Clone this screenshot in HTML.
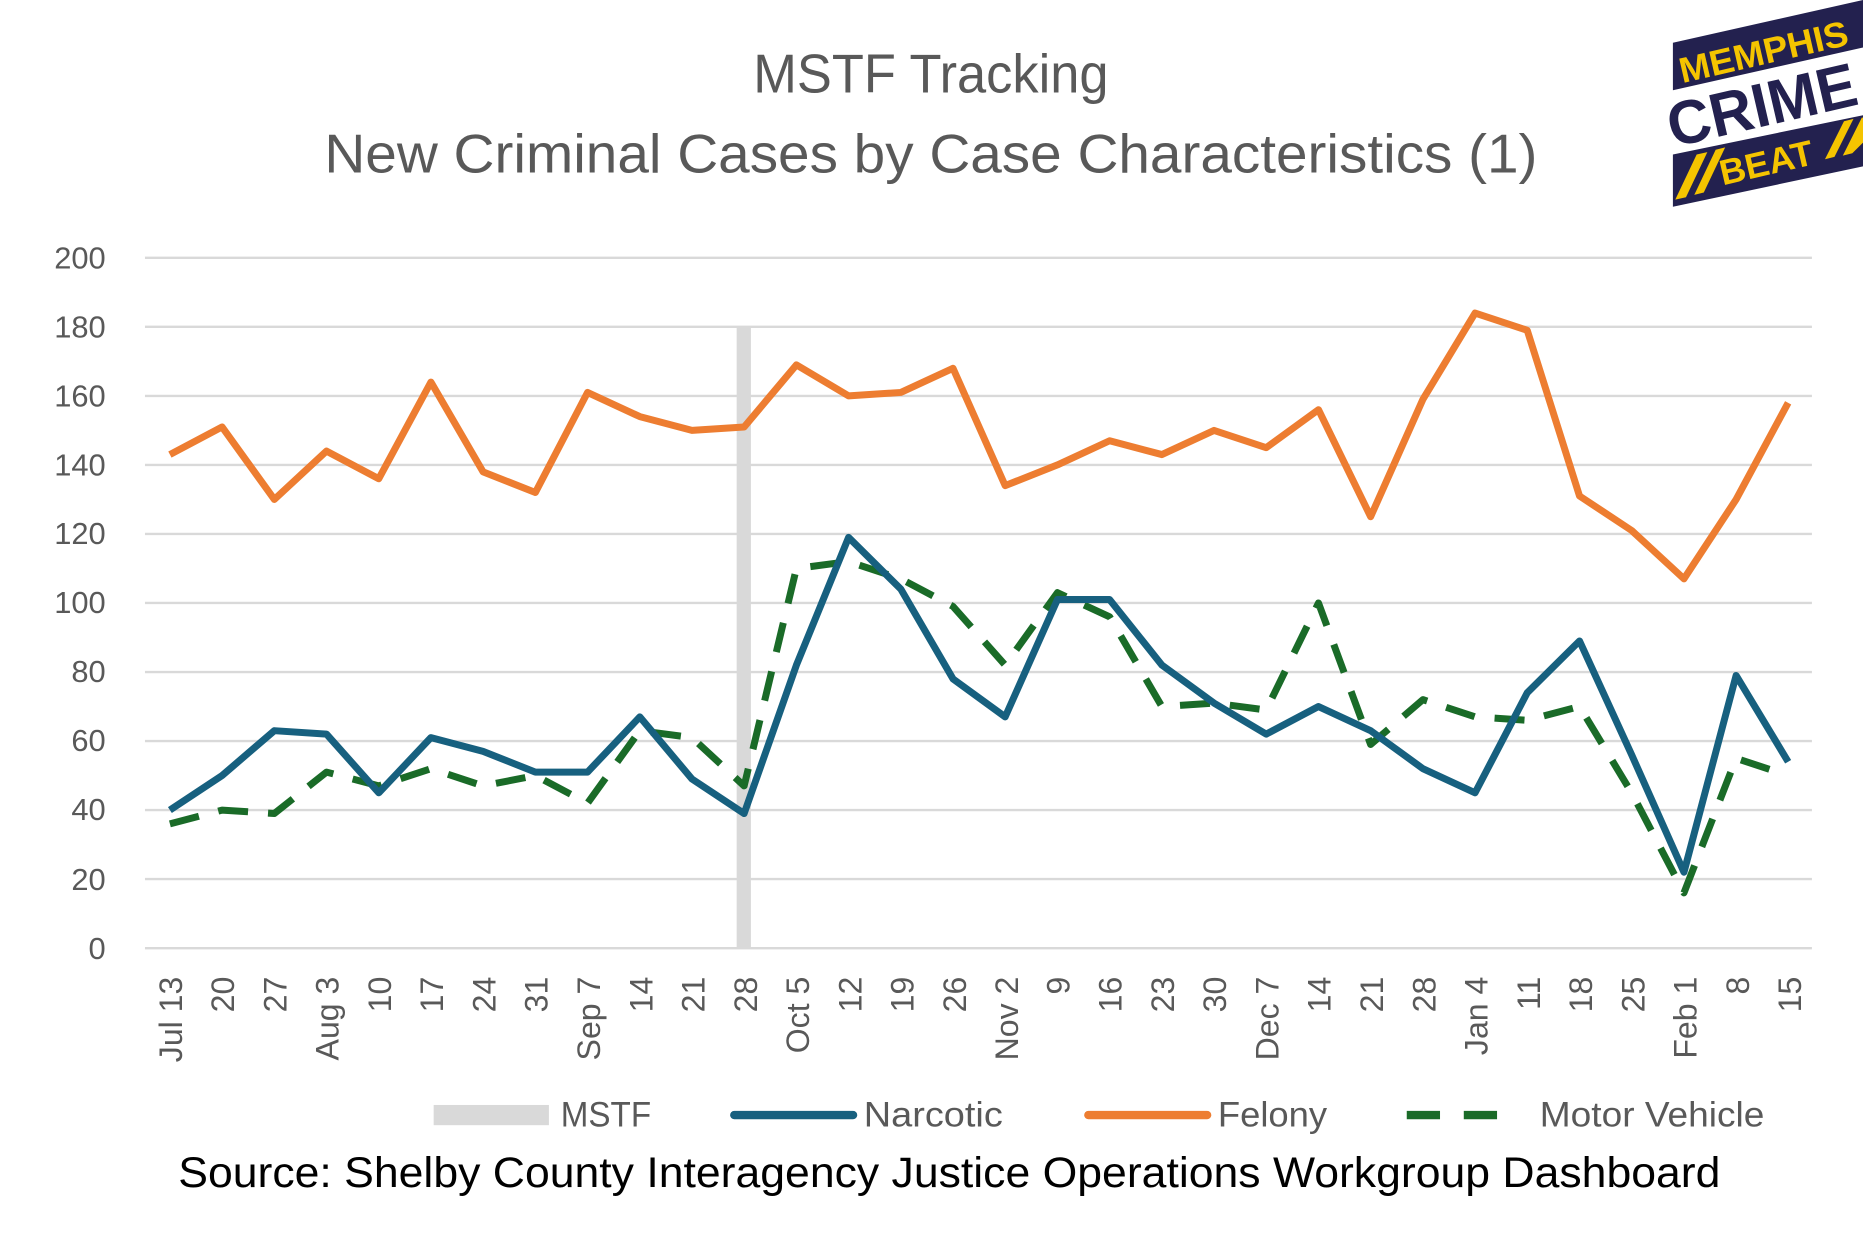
<!DOCTYPE html>
<html><head><meta charset="utf-8"><style>
html,body{margin:0;padding:0;background:#fff;}
svg{display:block;}
text{font-family:"Liberation Sans",sans-serif;}
.n{font-family:"Liberation Sans Narrow","Liberation Sans",sans-serif;}
</style></head><body>
<svg width="1863" height="1234" viewBox="0 0 1568 1038.6" preserveAspectRatio="none" xmlns="http://www.w3.org/2000/svg">
<rect width="1568" height="1039" fill="#fff"/>
<g fill="#595959" font-size="46">
<text class="n" x="634" y="78" textLength="299" lengthAdjust="spacingAndGlyphs">MSTF Tracking</text>
<text class="n" x="273" y="145" textLength="1021" lengthAdjust="spacingAndGlyphs">New Criminal Cases by Case Characteristics (1)</text>
</g>
<!-- logo -->
<g>
<polygon points="1408,36 1568,0 1568,40 1408,76" fill="#23214f"/>
<polygon points="1408,130 1568,97 1568,140 1408,174" fill="#23214f"/>
<polygon points="1410,168 1428,130 1437,128 1419,166" fill="#f5c400"/>
<polygon points="1426,164 1444,126 1452,124 1434,162" fill="#f5c400"/>
<polygon points="1536,134 1552,102 1560,100 1544,132" fill="#f5c400"/>
<polygon points="1551,131 1567,99 1568,99 1568,120 1559,129" fill="#f5c400"/>
<text class="n" transform="translate(1416,70) rotate(-13)" font-size="30" font-weight="bold" fill="#f5c400" textLength="145" lengthAdjust="spacingAndGlyphs">MEMPHIS</text>
<text class="n" transform="translate(1408,124) rotate(-13)" font-size="52" font-weight="bold" fill="#23214f" textLength="162" lengthAdjust="spacingAndGlyphs">CRIME</text>
<text class="n" transform="translate(1450,156) rotate(-13)" font-size="30" font-weight="bold" fill="#f5c400" textLength="80" lengthAdjust="spacingAndGlyphs">BEAT</text>
</g>
<!-- grid -->
<g stroke="#d9d9d9" stroke-width="2">
<line x1="122" x2="1525" y1="217" y2="217"/><line x1="122" x2="1525" y1="275.1" y2="275.1"/>
<line x1="122" x2="1525" y1="333.2" y2="333.2"/><line x1="122" x2="1525" y1="391.3" y2="391.3"/>
<line x1="122" x2="1525" y1="449.4" y2="449.4"/><line x1="122" x2="1525" y1="507.5" y2="507.5"/>
<line x1="122" x2="1525" y1="565.6" y2="565.6"/><line x1="122" x2="1525" y1="623.7" y2="623.7"/>
<line x1="122" x2="1525" y1="681.8" y2="681.8"/><line x1="122" x2="1525" y1="739.9" y2="739.9"/>
<line x1="122" x2="1525" y1="798" y2="798"/>
</g>
<g font-size="26" fill="#595959" text-anchor="end">
<text x="89" y="226">200</text><text x="89" y="284">180</text><text x="89" y="342">160</text>
<text x="89" y="400">140</text><text x="89" y="458">120</text><text x="89" y="516">100</text>
<text x="89" y="574">80</text><text x="89" y="632">60</text><text x="89" y="690">40</text>
<text x="89" y="749">20</text><text x="89" y="807">0</text>
</g>
<rect x="620" y="275" width="12" height="523" fill="#d9d9d9"/>
<g transform="translate(0,798) scale(1,-2.905)" fill="none" stroke-linejoin="round">
<polyline vector-effect="non-scaling-stroke" stroke="#ed7d31" stroke-width="7" points="143,143 186.9,151 230.9,130 274.8,144 318.8,136 362.7,164 406.6,138 450.6,132 494.5,161 538.5,154 582.4,150 626.3,151 670.3,169 714.2,160 758.2,161 802.1,168 846,134 890,140 933.9,147 977.9,143 1021.8,150 1065.7,145 1109.7,156 1153.6,125 1197.6,159 1241.5,184 1285.4,179 1329.4,131 1373.3,121 1417.3,107 1461.2,130 1505,158"/>
<polyline vector-effect="non-scaling-stroke" stroke="#1a6b28" stroke-width="7" stroke-dasharray="30,20" points="143,36 186.9,40 230.9,39 274.8,51 318.8,47 362.7,52 406.6,47 450.6,50 494.5,42 538.5,63 582.4,61 626.3,47 670.3,110 714.2,112 758.2,107 802.1,99 846,82 890,103 933.9,96 977.9,70 1021.8,71 1065.7,69 1109.7,100 1153.6,59 1197.6,72 1241.5,67 1285.4,66 1329.4,70 1373.3,45 1417.3,16 1461.2,55 1505,50"/>
<polyline vector-effect="non-scaling-stroke" stroke="#17607f" stroke-width="7" points="143,40 186.9,50 230.9,63 274.8,62 318.8,45 362.7,61 406.6,57 450.6,51 494.5,51 538.5,67 582.4,49 626.3,39 670.3,82 714.2,119 758.2,104 802.1,78 846,67 890,101 933.9,101 977.9,82 1021.8,71 1065.7,62 1109.7,70 1153.6,63 1197.6,52 1241.5,45 1285.4,74 1329.4,89 1373.3,56 1417.3,22 1461.2,79 1505,54"/>
</g>
<g font-size="27" fill="#595959" text-anchor="end">
<text transform="translate(153,822) rotate(-90)">Jul 13</text>
<text transform="translate(197,822) rotate(-90)">20</text>
<text transform="translate(241,822) rotate(-90)">27</text>
<text transform="translate(285,822) rotate(-90)">Aug 3</text>
<text transform="translate(329,822) rotate(-90)">10</text>
<text transform="translate(373,822) rotate(-90)">17</text>
<text transform="translate(417,822) rotate(-90)">24</text>
<text transform="translate(461,822) rotate(-90)">31</text>
<text transform="translate(505,822) rotate(-90)">Sep 7</text>
<text transform="translate(549,822) rotate(-90)">14</text>
<text transform="translate(593,822) rotate(-90)">21</text>
<text transform="translate(637,822) rotate(-90)">28</text>
<text transform="translate(681,822) rotate(-90)">Oct 5</text>
<text transform="translate(725,822) rotate(-90)">12</text>
<text transform="translate(769,822) rotate(-90)">19</text>
<text transform="translate(813,822) rotate(-90)">26</text>
<text transform="translate(857,822) rotate(-90)">Nov 2</text>
<text transform="translate(900,822) rotate(-90)">9</text>
<text transform="translate(944,822) rotate(-90)">16</text>
<text transform="translate(988,822) rotate(-90)">23</text>
<text transform="translate(1032,822) rotate(-90)">30</text>
<text transform="translate(1076,822) rotate(-90)">Dec 7</text>
<text transform="translate(1120,822) rotate(-90)">14</text>
<text transform="translate(1164,822) rotate(-90)">21</text>
<text transform="translate(1208,822) rotate(-90)">28</text>
<text transform="translate(1252,822) rotate(-90)">Jan 4</text>
<text transform="translate(1296,822) rotate(-90)">11</text>
<text transform="translate(1340,822) rotate(-90)">18</text>
<text transform="translate(1384,822) rotate(-90)">25</text>
<text transform="translate(1428,822) rotate(-90)">Feb 1</text>
<text transform="translate(1472,822) rotate(-90)">8</text>
<text transform="translate(1516,822) rotate(-90)">15</text>
</g>
<!-- legend -->
<rect x="365" y="930" width="97" height="17" fill="#d9d9d9"/>
<line x1="618" x2="718" y1="938.5" y2="938.5" stroke="#17607f" stroke-width="7" stroke-linecap="round"/>
<line x1="916" x2="1016" y1="938.5" y2="938.5" stroke="#ed7d31" stroke-width="7" stroke-linecap="round"/>
<line x1="1184" x2="1280" y1="938.5" y2="938.5" stroke="#1a6b28" stroke-width="7" stroke-dasharray="28,20"/>
<g font-size="30" fill="#595959">
<text class="n" x="472" y="948" textLength="76" lengthAdjust="spacingAndGlyphs">MSTF</text>
<text class="n" x="727" y="948" textLength="117" lengthAdjust="spacingAndGlyphs">Narcotic</text>
<text class="n" x="1025" y="948" textLength="92" lengthAdjust="spacingAndGlyphs">Felony</text>
<text class="n" x="1296" y="948" textLength="189" lengthAdjust="spacingAndGlyphs">Motor Vehicle</text>
</g>
<text class="n" x="150" y="999" font-size="36" fill="#000" textLength="1298" lengthAdjust="spacingAndGlyphs">Source:  Shelby County Interagency Justice Operations Workgroup Dashboard</text>
</svg>
</body></html>
